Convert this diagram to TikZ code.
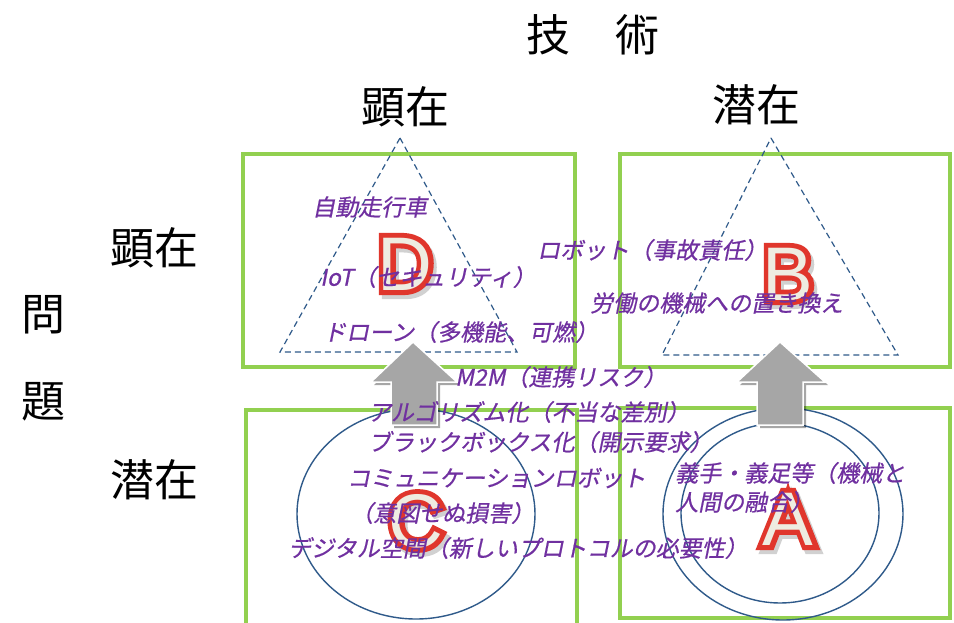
\documentclass[tikz,border=0pt]{standalone}
\usepackage{fontspec}
\usetikzlibrary{shadows}
\newfontfamily\jp{Noto Sans CJK JP}
\newfontfamily\jpit[FakeSlant=0.2, FakeBold=0.6]{Noto Sans CJK JP}
\newfontfamily\letterfont{Liberation Sans}
\newfontfamily\letterfontfat[FakeBold=13]{Liberation Sans}
\definecolor{boxgreen}{HTML}{92D050}
\definecolor{lineblue}{HTML}{2F5A8A}
\definecolor{txtpurple}{HTML}{7030A0}
\definecolor{arrowgray}{HTML}{A6A6A6}
\definecolor{lettercream}{HTML}{EEECE1}
\definecolor{letterred}{HTML}{E0362C}
\tikzset{
  greenbox/.style={draw=boxgreen, line width=4.5pt},
  tri/.style={draw=lineblue, line width=1.2pt, dash pattern=on 6pt off 4pt},
  ell/.style={draw=lineblue, line width=1.4pt},
  uparrow/.style={fill=arrowgray, draw=white, line width=1.5pt,
     drop shadow={shadow xshift=3pt, shadow yshift=-3pt, opacity=0.35, fill=black}},
  head/.style={font=\jp\fontsize{44}{44}\selectfont, text=black, inner sep=0},
  ptext/.style={font=\jpit\fontsize{23}{23}\selectfont, text=txtpurple, inner sep=0, anchor=west},
  letter/.style={font=\letterfont\fontsize{76}{76}\selectfont, text=lettercream, inner sep=0},
  lettero/.style={font=\letterfontfat\fontsize{76}{76}\selectfont, text=letterred, inner sep=0},
  lshadow/.style={font=\letterfontfat\fontsize{76}{76}\selectfont, text=black, inner sep=0, opacity=0.18}
}
\begin{document}
\begin{tikzpicture}[x=1pt,y=-1pt]
\useasboundingbox (0,0) rectangle (954,623);
\fill[white] (0,0) rectangle (954,623);
% green boxes
\draw[greenbox] (243,154) rectangle (575,367);
\draw[greenbox] (620,154) rectangle (950,367);
\draw[greenbox] (246,410) rectangle (577,625);
\draw[greenbox] (620,408) rectangle (950,618);
% triangles
\draw[tri] (400,138) -- (517,352) -- (280,352) -- cycle;
\draw[tri] (771,138) -- (898,355) -- (662,355) -- cycle;
% ellipses
\draw[ell] (416,514) ellipse [x radius=119, y radius=105];
\draw[ell] (783,514) ellipse [x radius=120, y radius=106];
\draw[ell] (780,513) ellipse [x radius=99, y radius=90];
% arrows
\draw[uparrow] (413,342) -- (457,382) -- (437,382) -- (437,425) -- (391,425) -- (391,382) -- (371,382) -- cycle;
\draw[uparrow] (780,342) -- (825,382) -- (803,382) -- (803,425) -- (757,425) -- (757,382) -- (737,382) -- cycle;
% headings
\node[head] (gijutsu1) at (548,35) {技};
\node[head] (gijutsu2) at (637,35) {術};
\node[head] (kenzai1) at (405,107) {顕在};
\node[head] (senzai1) at (756,105) {潜在};
\node[head] (kenzai2) at (154,248) {顕在};
\node[head] (senzai2) at (154,480) {潜在};
\node[head] (mon) at (43,315) {問};
\node[head] (dai) at (43,402) {題};
% big letters
\node[lshadow] (Ds) at (408,268) {D};
\node[lettero] (Do) at (405,264) {D};
\node[letter] (D) at (405,264) {D};
\node[lshadow] (Bs) at (791,278) {B};
\node[lettero] (Bo) at (788,274) {B};
\node[letter] (B) at (788,274) {B};
\node[lshadow] (Cs) at (419,525) {C};
\node[lettero] (Co) at (416,521) {C};
\node[letter] (C) at (416,521) {C};
\node[lshadow] (As) at (791,523) {A};
\node[lettero] (Ao) at (788,519) {A};
\node[letter] (A) at (788,519) {A};
% purple texts
\node[ptext] (t1) at (312,207) {自動走行車};
\node[ptext] (t2) at (320,277) {IoT（セキュリティ）};
\node[ptext] (t3) at (323,332) {ドローン（多機能、可燃）};
\node[ptext] (t4) at (537,250) {ロボット（事故責任）};
\node[ptext] (t5) at (590,303) {労働の機械への置き換え};
\node[ptext] (t6) at (455,377) {M2M（連携リスク）};
\node[ptext] (t7) at (368,412) {アルゴリズム化（不当な差別）};
\node[ptext] (t8) at (368,442) {ブラックボックス化（開示要求）};
\node[ptext] (t9) at (347,478) {コミュニケーションロボット};
\node[ptext] (t10) at (350,513) {（意図せぬ損害）};
\node[ptext] (t11) at (288,548) {デジタル空間（新しいプロトコルの必要性）};
\node[ptext] (t12) at (675,473) {義手・義足等（機械と};
\node[ptext] (t13) at (675,502) {人間の融合）};
\end{tikzpicture}
\end{document}
